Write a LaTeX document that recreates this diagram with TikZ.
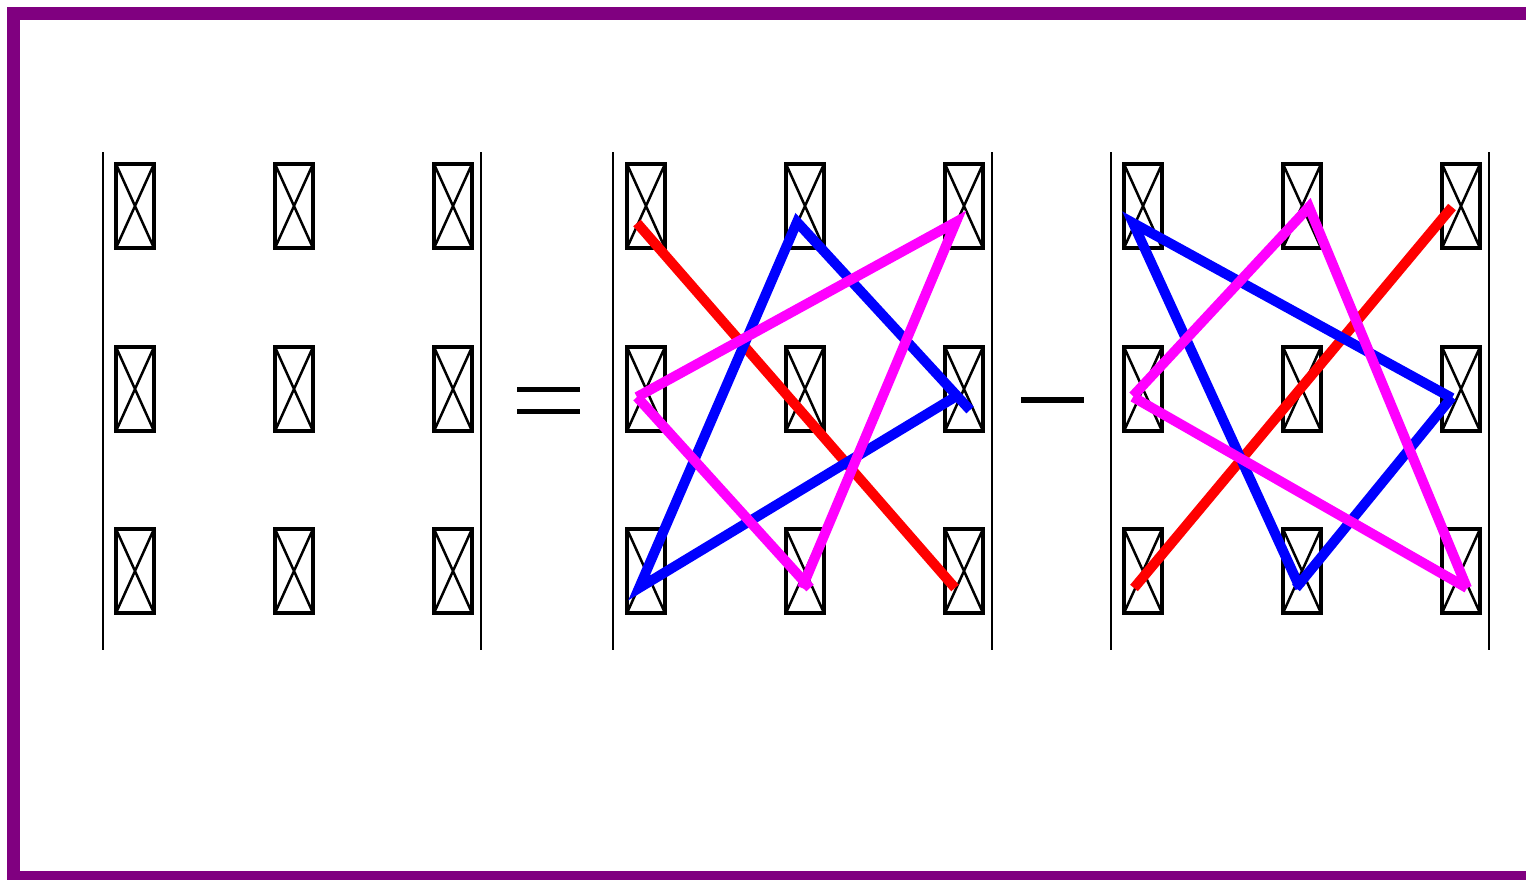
\documentclass[tikz,border=0pt]{standalone}
\definecolor{framepurple}{RGB}{128,0,128}
\definecolor{lred}{RGB}{255,0,0}
\definecolor{lblue}{RGB}{0,0,255}
\definecolor{lmag}{RGB}{255,0,255}
\tikzset{
  glyphbox/.style={draw=black, line width=3.2pt, minimum width=38pt, minimum height=84pt, inner sep=0pt,
    path picture={\draw[line width=2.5pt] (path picture bounding box.north west) -- (path picture bounding box.south east)
      (path picture bounding box.north east) -- (path picture bounding box.south west);}},
  bar/.style={line width=2.8pt},
  termline/.style={line width=10pt},
  opbar/.style={line width=5.5pt},
}
\begin{document}
\begin{tikzpicture}[x=1pt,y=-1pt]
\useasboundingbox (0,0) rectangle (1526,879);
\begin{scope}
\clip (0,0) rectangle (1526,879);
\draw[framepurple, line width=13pt] (13,13.5) rectangle (1560,877.5);
\end{scope}
% boxes
\foreach \d/\xo in {a/135,b/646,c/1143}{
  \foreach \c/\dx in {1/0,2/159,3/318}{
    \foreach \r/\yy in {1/206,2/389,3/571}{
      \node[glyphbox] (\d\r\c) at (\xo+\dx,\yy) {};
    }
  }
}
% determinant bars
\foreach \n/\x in {aL/103,aR/481,bL/613,bR/992,cL/1111,cR/1489}{
  \coordinate (\n t) at (\x,152);
  \coordinate (\n b) at (\x,650);
  \draw[bar] (\n t) -- (\n b);
}
% operators
\coordinate (eq1l) at (517,389.3); \coordinate (eq1r) at (580,389.3);
\coordinate (eq2l) at (517,411.3); \coordinate (eq2r) at (580,411.3);
\draw[opbar] (eq1l) -- (eq1r);
\draw[opbar] (eq2l) -- (eq2r);
\coordinate (mil) at (1021,400); \coordinate (mir) at (1084,400);
\draw[opbar] (mil) -- (mir);
% second determinant lines
\coordinate (r1s) at (637,223); \coordinate (r1e) at (955,588);
\draw[termline, lred] (r1s) -- (r1e);
\coordinate (b1a) at (970,410); \coordinate (b1b) at (797,222); \coordinate (b1c) at (639,588); \coordinate (b1d) at (955,397);
\draw[termline, lblue] (b1a) -- (b1b) -- (b1c) -- (b1d);
\coordinate (m1a) at (637,397); \coordinate (m1b) at (956,222); \coordinate (m1c) at (802,588);
\coordinate (m1d) at (637,397); \coordinate (m1e) at (810,588);
\draw[termline, lmag] (m1a) -- (m1b) -- (m1c);
\draw[termline, lmag] (m1d) -- (m1e);
% third determinant lines
\coordinate (r2s) at (1134,588); \coordinate (r2e) at (1452,207);
\draw[termline, lred] (r2s) -- (r2e);
\coordinate (b2a) at (1452,398); \coordinate (b2b) at (1133,223); \coordinate (b2c) at (1300,588);
\coordinate (b2d) at (1296,588); \coordinate (b2e) at (1452,397);
\draw[termline, lblue] (b2a) -- (b2b) -- (b2c);
\draw[termline, lblue] (b2d) -- (b2e);
\coordinate (m2a) at (1133,396); \coordinate (m2b) at (1309,207); \coordinate (m2c) at (1467,588);
\coordinate (m2d) at (1133,397);
\draw[termline, lmag] (m2a) -- (m2b) -- (m2c);
\draw[termline, lmag] (m2d) -- (m2c);
\end{tikzpicture}
\end{document}
